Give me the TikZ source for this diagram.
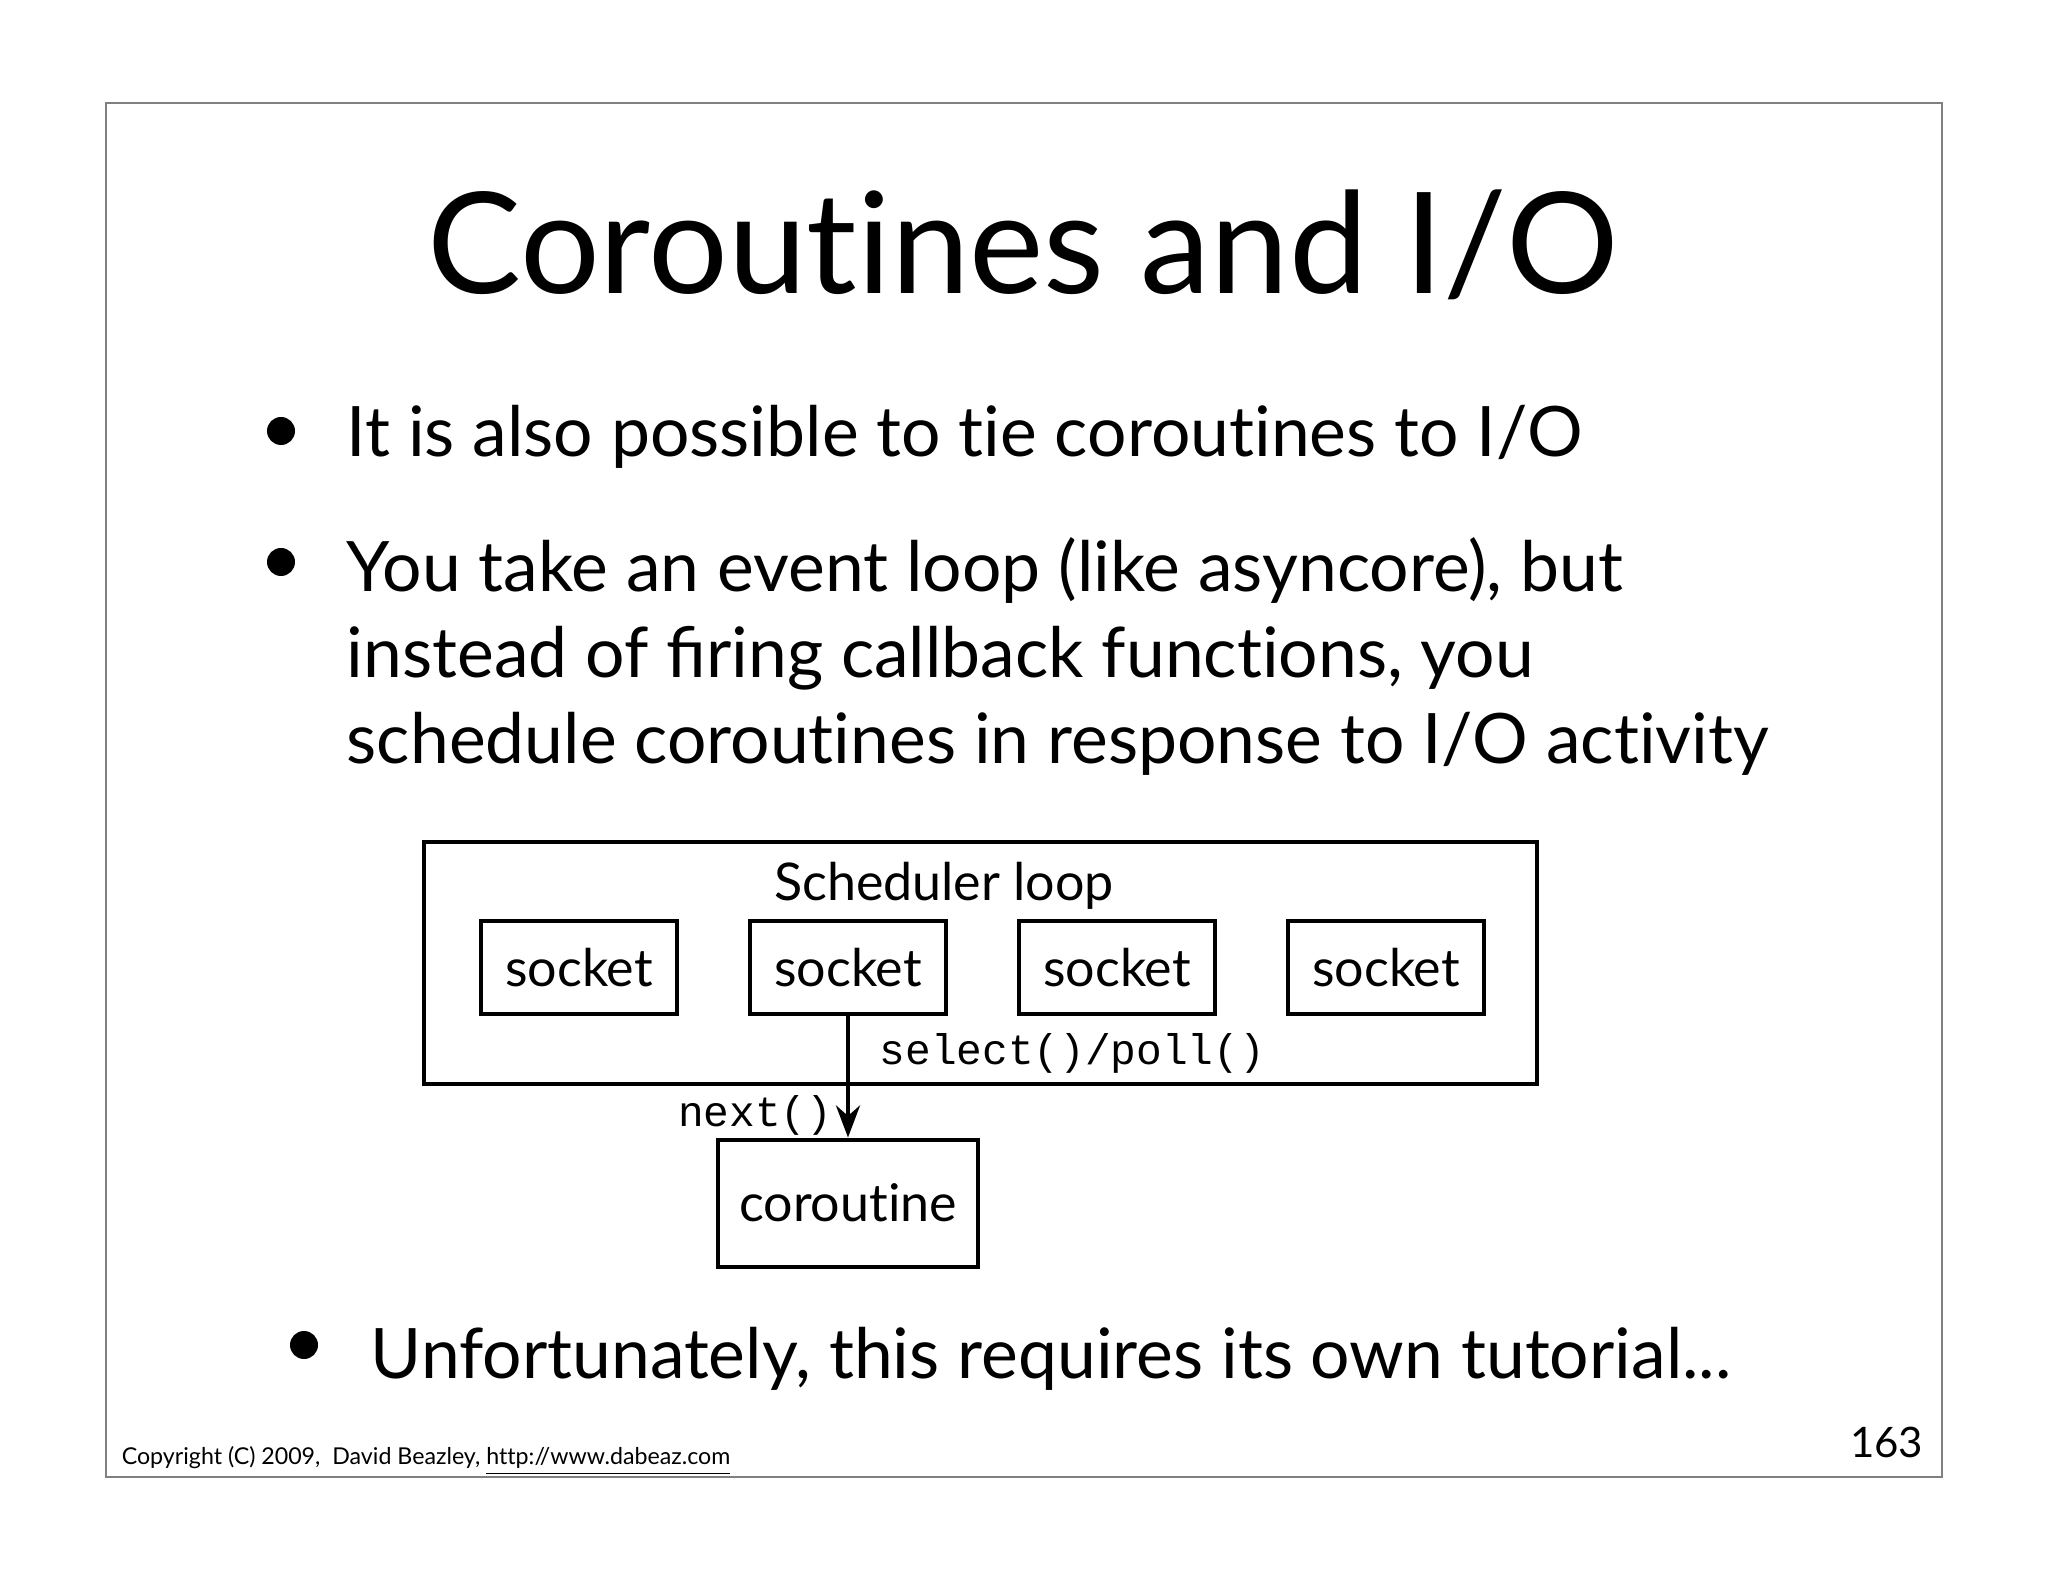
\documentclass[tikz,border=0pt]{standalone}
\usepackage{fontspec}
\setmainfont{Lato}[Ligatures=NoCommon]
\setmonofont{Liberation Mono}
\usetikzlibrary{positioning,arrows.meta}
\tikzset{
  box/.style={draw,line width=1pt,minimum width=49pt,minimum height=23.25pt,inner sep=0pt,
    font=\fontsize{13}{15}\selectfont},
  code/.style={inner sep=0pt,font=\ttfamily\fontsize{10.7}{12}\selectfont},
  bullet/.style={inner sep=0pt,anchor=base west,align=left,font=\fontsize{17.4}{21.5}\selectfont},
}
\begin{document}
\begin{tikzpicture}[x=0.25pt,y=-0.25pt]
\useasboundingbox (0,0) rectangle (2048,1582);
\fill[white] (0,0) rectangle (2048,1582);
\draw[gray,line width=0.4pt] (106,103) rectangle (1942,1477);
% title and bullets
\node[inner sep=0pt,anchor=base,font=\fontsize{35.2}{40}\selectfont] (title) at (1023,294) {Coroutines and I/O};
\fill (281,431) circle (14);
\node[bullet] (b1) at (346,457) {It is also possible to tie coroutines to I/O};
\fill (281,562) circle (14);
\node[bullet,anchor=north west] (b2) at (346,537) {You take an event loop (like asyncore), but\\
instead of ﬁring callback functions, you\\
schedule coroutines in response to I/O activity};
% diagram
\draw[line width=1pt] (424,842) rectangle (1537,1084);
\node[inner sep=0pt,anchor=base,font=\fontsize{13}{15}\selectfont] (loop) at (944,901) {Scheduler loop};
\node[box] (s1) at (579,968) {socket};
\node[box,right=17.25pt of s1] (s2) {socket};
\node[box,right=17.25pt of s2] (s3) {socket};
\node[box,right=17.25pt of s3] (s4) {socket};
\node[box,minimum width=65pt,minimum height=31.75pt,below=30.25pt of s2] (co) {coroutine};
\draw[line width=1.1pt,-{Stealth[length=8pt,width=6pt]}] (s2.south) -- (co.north);
\node[code,anchor=base west] (sel) at (879,1064) {select()/poll()};
\node[code,anchor=base east] (nxt) at (833,1126) {next()};
\fill (304,1345) circle (14);
\node[bullet] (b3) at (370,1378) {Unfortunately, this requires its own tutorial...};
% footer
\node[inner sep=0pt,anchor=base west,font=\fontsize{5.8}{7}\selectfont] (copy) at (121,1464)
  {Copyright (C) 2009,\ \ David Beazley, \underline{http://www.dabeaz.com}};
\node[inner sep=0pt,anchor=base east,font=\fontsize{10.5}{12}\selectfont] (num) at (1924,1457) {163};
\end{tikzpicture}
\end{document}
